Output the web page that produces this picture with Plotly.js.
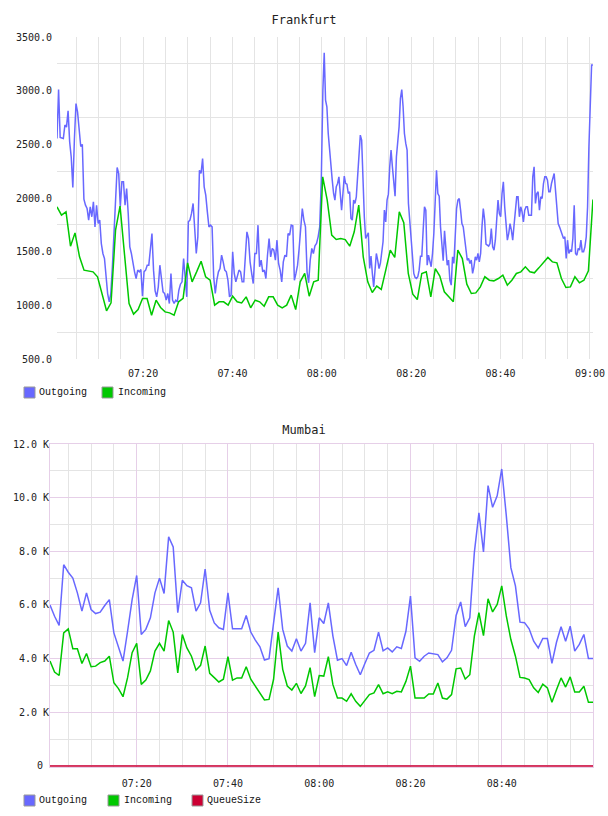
<!DOCTYPE html>
<html>
<head>
<meta charset="utf-8">
<script src="https://cdn.plot.ly/plotly-3.0.1.min.js"></script>
<style>
  html, body { margin: 0; padding: 0; background: #fff; }
  #frankfurt, #mumbai { width: 608px; height: 408px; }
</style>
</head>
<body>
<div id="frankfurt"></div>
<div id="mumbai"></div>
<script>
// ---------------- DATA ----------------
const DAY = '2024-01-01';
const seriesNames = ['Outgoing', 'Incoming', 'QueueSize'];

// Frankfurt – Outgoing, first hour (07:00:44 .. 08:00:14, evenly sampled)
const frankfurtOutgoingA = [
  2554, 3011, 2564, 2560, 2554, 2680, 2660, 2812, 2523, 2380, 2098, 2550, 2880, 2800, 2650, 2480, 2500, 1990, 1933, 1902, 1794,
  1918, 1825, 1964, 1731, 1933, 1762, 1794, 1576, 1483, 1436,
  1266, 1110, 1033, 1110, 1359, 1669, 2011, 2284, 2228, 1918,
  2151, 2151, 1933, 2089, 1856, 1545, 1483, 1374, 1312, 1250,
  1328, 1312, 1334, 1085, 1312, 1328, 1374, 1374, 1514, 1669,
  1328, 1135, 1079, 1172, 1374, 1234, 1126, 1110, 1048, 1110,
  1017, 1297, 1048, 1017, 1048, 1033, 1141, 1197, 1219, 1436,
  1250, 1079, 1778, 1794, 1856, 1949, 1716, 1483, 1638, 2259,
  2228, 2368, 2104, 2027, 1871, 1731, 1747, 1731, 1266, 1110,
  1234, 1312, 1343, 1467, 1405, 1328, 1312, 1234, 1079, 1095,
  1498, 1297, 1219, 1266, 1328, 1312, 1219, 1219, 1452, 1685,
  1623, 1405, 1297, 1203, 1483, 1483, 1747, 1359, 1421, 1312,
  1328, 1250, 1467, 1623, 1452, 1530, 1514, 1421, 1607, 1390,
  1328, 1219, 1405, 1467, 1452, 1669, 1654, 1747, 1741, 1234,
  1297, 1374, 1530, 1700, 1902, 1794, 1731, 1312, 1210, 1421,
  1530, 1483, 1554, 1576, 1638, 1731, 2166, 3005
];
const frankfurtOutgoingAStart = '07:00:44';
const frankfurtOutgoingAEnd = '08:00:14';

// Frankfurt – Outgoing, second hour (08:00:32 .. 09:00:40, evenly sampled)
const frankfurtOutgoingB = [
  3353, 2912, 2850, 2601, 2446, 2259, 2166, 2042, 1980, 2104,
  2135, 2197, 2011, 1887, 2042, 2204, 2135, 2129, 2042, 2058,
  1809, 1794, 1980, 1949, 2011, 2228, 2477, 2586, 2539, 2104,
  1825, 1623, 1654, 1675, 1343, 1458, 1297, 1172, 1328, 1483,
  1421, 1343, 1390, 1483, 1592, 1887, 1778, 1980, 2036, 2290,
  2446, 2290, 2166, 2017, 2384, 2539, 2663, 2927, 3011, 2850,
  2601, 2508, 2446, 1949, 1762, 1576, 1483, 1297, 1259, 1250,
  1266, 1328, 1458, 1458, 1700, 1918, 1887, 1374, 1467, 1421,
  1359, 1483, 1669, 1964, 2259, 2042, 2017, 1731, 1530, 1415,
  1694, 1545, 1374, 1421, 1234, 1188, 1452, 1390, 1638, 1902,
  1980, 1995, 1887, 1762, 1731, 1607, 1545, 1421, 1436, 1390,
  1421, 1297, 1359, 1452, 1421, 1483, 1405, 1483, 1731, 1902,
  1794, 1570, 1561, 1551, 1576, 1716, 1545, 1514, 1607, 1825,
  1980, 1856, 1825, 2042, 2151, 1918, 1731, 1607, 1669, 1762,
  1700, 1607, 1747, 1918, 2011, 2011, 1825, 1918, 1871, 1778,
  1887, 1918, 1918, 1840, 1840, 1840, 2197, 2290, 1949, 2042,
  2058, 1887, 2011, 1995, 2135, 2197, 2197, 2166, 2058, 2058,
  2135, 2191, 2228, 2073, 1918, 1762, 1731, 1700, 1654, 1623,
  1638, 1436, 1607, 1483, 1514, 1499, 1623, 1933, 1483, 1467,
  1530, 1514, 1607, 1499, 1499, 1545, 1638, 1918, 2477, 3005,
  3238, 3238
];
const frankfurtOutgoingBStart = '08:00:32';
const frankfurtOutgoingBEnd = '09:00:40';

// Frankfurt – Incoming (one sample per minute, 07:00:44 .. 09:00:40)
const frankfurtIncoming = [
  1918, 1840, 1871, 1551, 1675, 1452, 1328, 1321, 1312, 1266,
  1110, 949, 1023, 1700, 1924, 1483, 1017, 918, 961, 1064,
  1064, 908, 1048, 980, 939, 930, 908, 1033, 1064, 1396,
  1219, 1312, 1411, 1266, 1234, 1002, 1033, 1033, 1002, 1085,
  1033, 1023, 1079, 977, 1048, 1033, 992, 1079, 1079, 1002,
  977, 1002, 1095, 961, 1219, 1297, 1085, 1219, 1234, 2197,
  1980, 1654, 1613, 1623, 1613, 1551, 1685, 1933, 1452, 1219,
  1120, 1179, 1148, 1328, 1514, 1446, 1871, 1769, 1297, 1104,
  1054, 1297, 1312, 1079, 1343, 1272, 1126, 1079, 1033, 1514,
  1436, 1197, 1110, 1116, 1172, 1266, 1234, 1228, 1250, 1281,
  1188, 1234, 1297, 1312, 1359, 1312, 1303, 1349, 1396, 1446,
  1405, 1396, 1250, 1166, 1172, 1266, 1210, 1234, 1321, 1986
];
const frankfurtIncomingStart = '07:00:44';
const frankfurtIncomingEnd = '09:00:40';
const frankfurtRange = ['07:00:44', '09:00:41'];
const frankfurtYTicks = [500, 1000, 1500, 2000, 2500, 3000, 3500];

// Mumbai – one sample per minute, 07:01 .. 09:00 (values in K)
const mumbaiStart = '07:01:00';
const mumbaiEnd = '09:00:00';
const mumbaiOutgoing = [
  6.0, 5.58, 5.24, 7.5, 7.22, 7.0, 6.45, 5.77, 6.45, 5.83,
  5.68, 5.73, 5.98, 6.2, 4.96, 4.47, 3.91, 5.02, 6.2, 7.1,
  4.9, 5.09, 5.52, 6.45, 7.0, 6.43, 8.54, 8.16, 5.71, 6.92,
  6.72, 6.64, 5.77, 6.08, 7.34, 5.8, 5.33, 5.15, 5.09, 6.45,
  5.11, 5.11, 5.11, 5.61, 4.99, 4.69, 4.44, 3.95, 4.0, 5.33,
  6.64, 5.09, 4.47, 4.28, 4.74, 4.28, 4.57, 6.08, 4.22, 5.52,
  5.31, 6.08, 4.84, 3.94, 4.0, 3.74, 4.24, 3.78, 3.4, 3.82,
  4.21, 4.31, 4.99, 4.29, 4.4, 4.25, 4.44, 4.38, 5.02, 6.33,
  4.03, 3.9, 4.09, 4.21, 4.19, 4.15, 3.88, 4.03, 4.31, 5.61,
  6.11, 5.19, 5.52, 7.96, 9.43, 7.98, 10.45, 9.64, 10.07, 11.07,
  9.33, 7.39, 6.71, 5.36, 5.34, 5.11, 4.65, 4.4, 4.75, 4.75,
  3.82, 4.61, 5.19, 4.65, 5.21, 4.28, 4.53, 4.9, 4.0, 4.0
];
const mumbaiIncoming = [
  3.91, 3.5, 3.37, 4.96, 5.11, 4.37, 4.37, 3.82, 4.19, 3.7,
  3.72, 3.85, 3.91, 4.09, 3.1, 2.88, 2.58, 3.29, 4.22, 4.57,
  3.04, 3.2, 3.54, 4.28, 4.57, 4.28, 5.42, 4.99, 3.47, 4.9,
  4.4, 4.09, 3.57, 3.75, 4.47, 3.45, 3.29, 3.13, 3.23, 4.07,
  3.2, 3.28, 3.28, 3.7, 3.23, 2.98, 2.73, 2.46, 2.48, 3.23,
  4.99, 3.6, 2.98, 2.83, 3.08, 2.7, 2.98, 3.66, 2.58, 3.37,
  3.35, 4.07, 3.03, 2.53, 2.53, 2.41, 2.69, 2.41, 2.22, 2.44,
  2.66, 2.72, 3.03, 2.69, 2.76, 2.69, 2.78, 2.76, 3.15, 3.72,
  2.53, 2.53, 2.53, 2.68, 2.68, 3.09, 2.53, 2.49, 2.66, 3.62,
  3.65, 3.24, 3.4, 4.84, 5.71, 4.86, 6.23, 5.74, 6.02, 6.71,
  5.59, 4.71, 4.09, 3.3, 3.28, 3.22, 2.91, 2.74, 3.05, 2.91,
  2.37, 2.84, 3.28, 2.94, 3.32, 2.76, 2.76, 2.97, 2.37, 2.37
];
const mumbaiQueueSize = [
  0, 0, 0, 0.01, 0.02, 0.015, 0.005, 0, 0, 0,
  0, 0, 0, 0, 0, 0, 0, 0, 0, 0,
  0, 0, 0, 0, 0, 0, 0, 0, 0, 0,
  0, 0, 0, 0, 0, 0, 0, 0, 0, 0,
  0, 0, 0, 0, 0, 0, 0, 0, 0, 0,
  0, 0, 0, 0, 0, 0, 0, 0, 0, 0,
  0, 0, 0, 0, 0, 0, 0, 0, 0, 0,
  0, 0, 0, 0, 0, 0, 0, 0, 0, 0,
  0, 0, 0, 0, 0, 0, 0, 0, 0, 0,
  0, 0, 0, 0, 0, 0, 0, 0, 0, 0,
  0, 0, 0, 0, 0, 0, 0, 0, 0, 0,
  0, 0, 0, 0, 0, 0, 0, 0, 0, 0
];
const mumbaiXTicks = ['07:20', '07:40', '08:00', '08:20', '08:40'];
const mumbaiYTickVals = [0, 2, 4, 6, 8, 10, 12];
const mumbaiYTickText = ['0\u00a0', '2.0 K', '4.0 K', '6.0 K', '8.0 K', '10.0 K', '12.0 K'];

// ---------------- HELPERS ----------------
function toSec(hms) {
  const p = hms.split(':').map(Number);
  return p[0] * 3600 + p[1] * 60 + (p[2] || 0);
}
function fmt(sec) {
  const h = Math.floor(sec / 3600), m = Math.floor((sec % 3600) / 60), s = sec - h * 3600 - m * 60;
  const pad = v => String(Math.floor(v)).padStart(2, '0');
  const ms = Math.round((s - Math.floor(s)) * 1000);
  return DAY + ' ' + pad(h) + ':' + pad(m) + ':' + pad(s) + '.' + String(ms).padStart(3, '0');
}
function timesFor(values, start, end) {
  const a = toSec(start), b = toSec(end), n = values.length;
  return values.map((_, i) => fmt(a + (b - a) * i / (n - 1)));
}
const at = hm => DAY + ' ' + hm;

// ---------------- STYLE ----------------
const C_OUT = '#6868ff', C_IN = '#00c800', C_Q = '#cc0033';
const tickFont = { family: 'DejaVu Sans Mono', size: 10, color: '#222' };
const titleFont = { family: 'DejaVu Sans Mono', size: 12, color: '#222' };
const legendFont = { family: 'Liberation Mono', size: 10, color: '#111' };
const GRID = '#e4e4e4';
const GRID_MAJOR = '#e6cfe8';

function legendItems(items) {
  const shapes = [], annotations = [];
  items.forEach(it => {
    shapes.push({
      type: 'rect', xref: 'paper', yref: 'paper', xsizemode: 'pixel', ysizemode: 'pixel',
      xanchor: 0, yanchor: 0, x0: it.sq, x1: it.sq + 11, y0: -28, y1: -39,
      fillcolor: it.color, line: { color: '#999', width: 1 }
    });
    annotations.push({
      xref: 'paper', yref: 'paper', x: 0, y: 0, xshift: it.tx, yshift: -33.5,
      xanchor: 'left', yanchor: 'middle', showarrow: false, text: it.name, font: legendFont
    });
  });
  return { shapes, annotations };
}

// ---------------- FRANKFURT ----------------
const fOut = {
  x: timesFor(frankfurtOutgoingA, frankfurtOutgoingAStart, frankfurtOutgoingAEnd)
      .concat(timesFor(frankfurtOutgoingB, frankfurtOutgoingBStart, frankfurtOutgoingBEnd)),
  y: frankfurtOutgoingA.concat(frankfurtOutgoingB),
  type: 'scatter', mode: 'lines', name: seriesNames[0], line: { color: C_OUT, width: 1.5 }
};
const fIn = {
  x: timesFor(frankfurtIncoming, frankfurtIncomingStart, frankfurtIncomingEnd),
  y: frankfurtIncoming,
  type: 'scatter', mode: 'lines', name: seriesNames[1], line: { color: C_IN, width: 1.5 }
};
const fLeg = legendItems([
  { name: seriesNames[0], color: C_OUT, sq: -33, tx: -20 },
  { name: seriesNames[1], color: C_IN, sq: 45, tx: 59 }
]);
const fLayout = {
  width: 608, height: 408,
  margin: { l: 57, r: 15, t: 37, b: 49 },
  paper_bgcolor: '#fff', plot_bgcolor: '#fff',
  showlegend: false, hovermode: false,
  title: { text: 'Frankfurt', font: titleFont, x: 0.5, xref: 'container', xanchor: 'center',
           y: 1 - 20 / 408, yref: 'container', yanchor: 'middle' },
  xaxis: {
    type: 'date', range: frankfurtRange.map(at),
    tickmode: 'linear', tick0: at('07:00'), dtick: 20 * 60000, tickformat: '%H:%M',
    showgrid: true, gridcolor: GRID, gridwidth: 1,
    minor: { tickmode: 'linear', tick0: at('07:00'), dtick: 5 * 60000, showgrid: true, gridcolor: GRID, gridwidth: 1 },
    zeroline: false, showline: false, ticks: '', tickfont: tickFont, ticklabelstandoff: 7, fixedrange: true
  },
  yaxis: {
    range: [frankfurtYTicks[0], frankfurtYTicks[frankfurtYTicks.length - 1]],
    tickmode: 'array', tickvals: frankfurtYTicks, tickformat: '.1f',
    showgrid: false,
    minor: { tickmode: 'linear', tick0: 250, dtick: 500, showgrid: true, gridcolor: GRID, gridwidth: 1 },
    zeroline: false, showline: false, ticks: '', tickfont: tickFont, ticklabelstandoff: 4, fixedrange: true
  },
  shapes: fLeg.shapes, annotations: fLeg.annotations
};
Plotly.newPlot('frankfurt', [fOut, fIn], fLayout, { staticPlot: true, displayModeBar: false });

// ---------------- MUMBAI ----------------
const mX = timesFor(mumbaiOutgoing, mumbaiStart, mumbaiEnd);
const mOut = { x: mX, y: mumbaiOutgoing, type: 'scatter', mode: 'lines', name: seriesNames[0], line: { color: C_OUT, width: 1.5 } };
const mIn = { x: mX, y: mumbaiIncoming, type: 'scatter', mode: 'lines', name: seriesNames[1], line: { color: C_IN, width: 1.5 } };
const mQ = { x: mX, y: mumbaiQueueSize, type: 'scatter', mode: 'lines', name: seriesNames[2], line: { color: C_Q, width: 1.5 } };
const mLeg = legendItems([
  { name: seriesNames[0], color: C_OUT, sq: -26, tx: -13 },
  { name: seriesNames[1], color: C_IN, sq: 58, tx: 72 },
  { name: seriesNames[2], color: C_Q, sq: 142, tx: 155 }
]);
const mLayout = {
  width: 608, height: 408,
  margin: { l: 50, r: 15, t: 36, b: 49 },
  paper_bgcolor: '#fff', plot_bgcolor: '#fff',
  showlegend: false, hovermode: false,
  title: { text: 'Mumbai', font: titleFont, x: 0.5, xref: 'container', xanchor: 'center',
           y: 1 - 22 / 408, yref: 'container', yanchor: 'middle' },
  xaxis: {
    type: 'date', range: [at(mumbaiStart), at(mumbaiEnd)],
    tickmode: 'array', tickvals: mumbaiXTicks.map(at), tickformat: '%H:%M',
    showgrid: true, gridcolor: GRID_MAJOR, gridwidth: 1,
    minor: { tickmode: 'linear', tick0: at('07:00'), dtick: 5 * 60000, showgrid: true, gridcolor: GRID, gridwidth: 1 },
    zeroline: false, showline: true, mirror: true, linecolor: GRID_MAJOR, linewidth: 1,
    ticks: '', tickfont: tickFont, ticklabelstandoff: 7, fixedrange: true
  },
  yaxis: {
    range: [-0.04, 12],
    tickmode: 'array', tickvals: mumbaiYTickVals, ticktext: mumbaiYTickText,
    showgrid: true, gridcolor: GRID_MAJOR, gridwidth: 1,
    minor: { tickmode: 'linear', tick0: 0, dtick: 1, showgrid: true, gridcolor: GRID, gridwidth: 1 },
    zeroline: false, showline: true, mirror: true, linecolor: GRID_MAJOR, linewidth: 1,
    ticks: '', tickfont: tickFont, ticklabelstandoff: -2, fixedrange: true
  },
  shapes: mLeg.shapes, annotations: mLeg.annotations
};
Plotly.newPlot('mumbai', [mOut, mIn, mQ], mLayout, { staticPlot: true, displayModeBar: false });
</script>
</body>
</html>
